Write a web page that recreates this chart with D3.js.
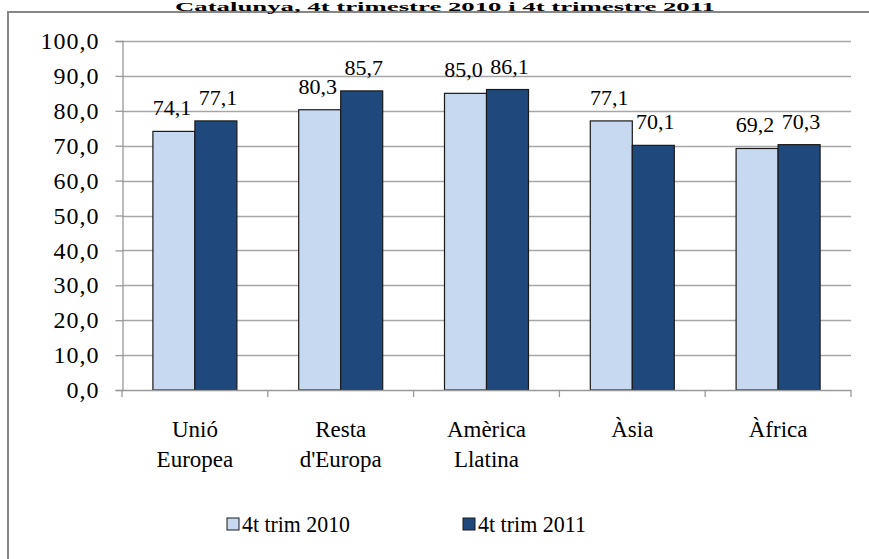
<!DOCTYPE html>
<html>
<head>
<meta charset="utf-8">
<script src="https://cdn.jsdelivr.net/npm/d3@7"></script>
<style>
  body { margin: 0; background: #fff; }
  svg { display: block; }
</style>
</head>
<body>
<svg id="chart" width="869" height="559"></svg>
<script>
const categories = [["Unió", "Europea"], ["Resta", "d'Europa"], ["Amèrica", "Llatina"], ["Àsia"], ["Àfrica"]];
const seriesNames = ["4t trim 2010", "4t trim 2011"];
const values2010 = [74.1, 80.3, 85.0, 77.1, 69.2];
const values2011 = [77.1, 85.7, 86.1, 70.1, 70.3];
const yTicks = [0, 10, 20, 30, 40, 50, 60, 70, 80, 90, 100];
const colors = ["#C6D9F1", "#1F497D"];
const title = "Catalunya, 4t trimestre 2010 i 4t trimestre 2011";

(function () {
const FONT = "Liberation Serif";
const svg = d3.select("#chart").attr("font-family", FONT);
const fmt = v => d3.format(".1f")(v).replace(".", ",");

// frame
svg.append("rect").attr("x", 8).attr("y", 12).attr("width", 875).attr("height", 600)
  .attr("fill", "#fff").attr("stroke", "#878787").attr("stroke-width", 2);

// title (partly cut in the reference)
svg.append("text").attr("x", 175).attr("y", 10.5)
  .attr("font-family", FONT).attr("font-size", 12).attr("font-weight", "bold")
  .attr("textLength", 540).attr("lengthAdjust", "spacingAndGlyphs").text(title);

const pLeft = 122, pRight = 851, pTop = 41, pBottom = 390;
const keys = categories.map((c, i) => i);
const x0 = d3.scaleBand().domain(keys).range([pLeft, pRight]).padding(0);
const y = d3.scaleLinear().domain([0, 100]).range([pBottom, pTop]);
const barW = 42;
const x1 = d3.scaleBand().domain([0, 1]).range([-barW, barW]).padding(0);

// gridlines
svg.append("g").selectAll("line").data(yTicks.filter(t => t > 0)).join("line")
  .attr("x1", pLeft).attr("x2", pRight)
  .attr("y1", d => Math.round(y(d)) + 0.5).attr("y2", d => Math.round(y(d)) + 0.5)
  .attr("stroke", "#A6A6A6").attr("stroke-width", 1.3);

// y axis
const yAxis = d3.axisLeft(y).tickValues(yTicks).tickFormat(fmt).tickSize(7).tickPadding(16);
const gy = svg.append("g").attr("transform", `translate(${pLeft + 0.5},0)`).call(yAxis)
  .attr("font-family", FONT);
gy.select(".domain").attr("stroke", "#999").attr("stroke-width", 1.3);
gy.selectAll(".tick line").attr("stroke", "#999").attr("stroke-width", 1.3);
gy.selectAll(".tick text").attr("font-size", 24).attr("font-family", FONT)
  .attr("letter-spacing", 1).attr("fill", "#000");

// bars
const data = keys.map(i => [values2010[i], values2011[i]]);
const groups = svg.append("g").selectAll("g").data(data).join("g")
  .attr("transform", (d, i) => `translate(${x0(i) + x0.bandwidth() / 2},0)`);
groups.selectAll("rect").data(d => d.map((v, s) => ({ v, s }))).join("rect")
  .attr("x", d => x1(d.s)).attr("width", x1.bandwidth())
  .attr("y", d => y(d.v)).attr("height", d => y(0) - y(d.v))
  .attr("fill", d => colors[d.s]).attr("stroke", "#1a1a1a").attr("stroke-width", 1.2);
groups.selectAll("text.val").data(d => d.map((v, s) => ({ v, s }))).join("text")
  .attr("class", "val").attr("text-anchor", "middle").attr("font-family", FONT)
  .attr("x", d => x1(d.s) + x1.bandwidth() / 2 + (d.s === 0 ? -2 : 2))
  .attr("y", d => y(d.v) - 16)
  .attr("font-size", 22).text(d => fmt(d.v));

// x axis
const xb = d3.scaleLinear().domain([0, categories.length]).range([pLeft, pRight]);
svg.append("line").attr("x1", pLeft).attr("x2", pRight).attr("y1", pBottom + 0.5).attr("y2", pBottom + 0.5)
  .attr("stroke", "#999").attr("stroke-width", 1.3);
svg.append("g").selectAll("line").data(d3.range(categories.length + 1)).join("line")
  .attr("x1", d => xb(d)).attr("x2", d => xb(d)).attr("y1", pBottom).attr("y2", pBottom + 7)
  .attr("stroke", "#999").attr("stroke-width", 1.3);
const cl = svg.append("g").selectAll("text").data(categories).join("text")
  .attr("text-anchor", "middle").attr("font-size", 23).attr("font-family", FONT)
  .attr("x", (d, i) => x0(i) + x0.bandwidth() / 2).attr("y", 437);
cl.selectAll("tspan").data(d => d).join("tspan")
  .attr("x", function () { return d3.select(this.parentNode).attr("x"); })
  .attr("dy", (d, i) => i === 0 ? 0 : 30).text(d => d);

// legend
const legX = [227, 463];
const leg = svg.append("g").selectAll("g").data(seriesNames).join("g")
  .attr("transform", (d, i) => `translate(${legX[i]},518)`);
leg.append("rect").attr("width", 12).attr("height", 12)
  .attr("fill", (d, i) => colors[i]).attr("stroke", "#1a1a1a").attr("stroke-width", 1);
leg.append("text").attr("x", 15).attr("y", 14).attr("font-size", 23).attr("font-family", FONT)
  .attr("textLength", 108).attr("lengthAdjust", "spacingAndGlyphs").text(d => d);
})();
</script>
</body>
</html>
